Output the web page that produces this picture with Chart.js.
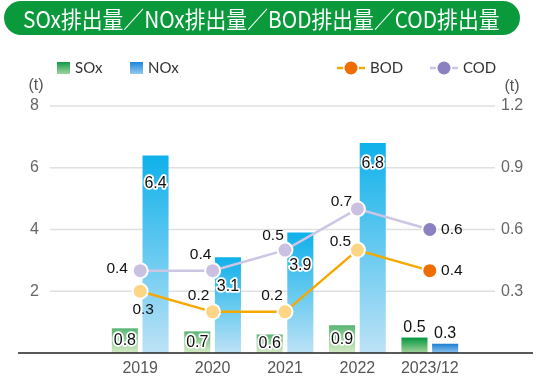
<!DOCTYPE html>
<html>
<head>
<meta charset="utf-8">
<script src="https://cdn.jsdelivr.net/npm/chart.js@4.4.1/dist/chart.umd.min.js"></script>
<style>
  html, body { margin: 0; padding: 0; background: #fff; }
  #wrap { position: relative; width: 558px; height: 387px; overflow: hidden; }
  #chart { position: absolute; left: 0; top: 0; }
  #title {
    position: absolute; left: 4px; top: 1px; width: 516px; height: 34px;
    border-radius: 17px; background: #0a9a3c; color: #fff;
    font: 400 23px "Noto Sans CJK JP", sans-serif; line-height: 34px;
    white-space: nowrap; z-index: 2;
  }
  #title span { position: absolute; left: 19px; top: 0; display: inline-block; transform-origin: left center; }
</style>
</head>
<body>
<div id="wrap">
  <div id="title"><span id="titleText">SOx排出量／NOx排出量／BOD排出量／COD排出量</span></div>
  <canvas id="chart" width="558" height="387"></canvas>
</div>
<script>
const categories = ['2019', '2020', '2021', '2022', '2023/12'];
const soxValues = [0.8, 0.7, 0.6, 0.9, 0.5];
const noxValues = [6.4, 3.1, 3.9, 6.8, 0.3];
const bodValues = [0.3, 0.2, 0.2, 0.5, 0.4];
const codValues = [0.4, 0.4, 0.5, 0.7, 0.6];
const leftTicks = [0, 2, 4, 6, 8];
const rightTicks = [0, 0.3, 0.6, 0.9, 1.2];

// squeeze the title to its condensed width
const titleSpan = document.getElementById('titleText');
titleSpan.style.transform = 'scaleX(' + (477 / titleSpan.offsetWidth) + ')';

const FONT = '"Liberation Sans", Arial, sans-serif';
const last = categories.length - 1;

function barGradient(ctx, top, bottom) {
    const chart = ctx.chart;
    if (!chart.chartArea || ctx.type !== 'data') return top;
    const y = chart.scales.y;
    const g = chart.ctx.createLinearGradient(0, y.getPixelForValue(ctx.raw), 0, y.getPixelForValue(0));
    g.addColorStop(0, top);
    g.addColorStop(1, bottom);
    return g;
}

function pointColors(past, now) {
    return categories.map((c, i) => i === last ? now : past);
}

function outlined(c, text, x, y) {
    c.lineWidth = 3.5;
    c.lineJoin = 'round';
    c.strokeStyle = '#fff';
    c.strokeText(text, x, y);
    c.fillStyle = '#111';
    c.fillText(text, x, y);
}

const decorPlugin = {
    id: 'decor',
    beforeDatasetsDraw(chart) {
        const c = chart.ctx;
        const y = chart.scales.y;
        const y1 = chart.scales.y1;
        const x = chart.scales.x;
        c.save();
        c.strokeStyle = '#e0e0e0';
        c.lineWidth = 1.5;
        leftTicks.filter(v => v > 0).forEach(v => {
            const py = y.getPixelForValue(v);
            c.beginPath();
            c.moveTo(50, py);
            c.lineTo(495, py);
            c.stroke();
        });

        // axis tick labels
        c.font = '16px ' + FONT;
        c.fillStyle = '#666';
        c.textBaseline = 'middle';
        c.textAlign = 'right';
        leftTicks.filter(v => v > 0).forEach(v => c.fillText(String(v), 39, y.getPixelForValue(v)));
        c.textAlign = 'left';
        rightTicks.filter(v => v > 0).forEach(v => c.fillText(v.toFixed(1), 501, y1.getPixelForValue(v)));
        c.textAlign = 'center';
        c.fillStyle = '#555';
        categories.forEach((cat, i) => c.fillText(cat, x.getPixelForValue(i), 369));

        // unit labels
        c.fillText('(t)', 36, 86);
        c.fillText('(t)', 512, 87);
        c.restore();
    },
    afterDatasetsDraw(chart) {
        const c = chart.ctx;
        const y = chart.scales.y;
        c.save();

        // baseline
        c.strokeStyle = '#222';
        c.lineWidth = 1.5;
        c.beginPath();
        c.moveTo(18, y.getPixelForValue(0));
        c.lineTo(533, y.getPixelForValue(0));
        c.stroke();

        c.textAlign = 'center';
        c.textBaseline = 'middle';
        c.font = '16px ' + FONT;

        // bar labels
        const sox = chart.getDatasetMeta(0).data;
        const nox = chart.getDatasetMeta(1).data;
        const noxDrop = [28, 29, 33, 21];
        sox.forEach((bar, i) => {
            if (i === last) {
                c.fillStyle = '#111';
                c.fillText(soxValues[i].toFixed(1), bar.x, bar.y - 10);
            } else {
                outlined(c, soxValues[i].toFixed(1), bar.x, (bar.y + bar.base) / 2);
            }
        });
        nox.forEach((bar, i) => {
            if (i === last) {
                c.fillStyle = '#111';
                c.fillText(noxValues[i].toFixed(1), bar.x, bar.y - 10);
            } else {
                outlined(c, noxValues[i].toFixed(1), bar.x, bar.y + noxDrop[i]);
            }
        });

        // line labels
        c.font = '15.5px ' + FONT;
        c.fillStyle = '#111';
        const bodShift = [[3, 18], [-14, -16], [-13, -16], [-17, -8], [22, 0]];
        const codShift = [[-23, -2], [-12, -16], [-12, -14], [-16, -7], [22, 0]];
        chart.getDatasetMeta(2).data.forEach((p, i) => {
            c.fillText(bodValues[i].toFixed(1), p.x + bodShift[i][0], p.y + bodShift[i][1]);
        });
        chart.getDatasetMeta(3).data.forEach((p, i) => {
            c.fillText(codValues[i].toFixed(1), p.x + codShift[i][0], p.y + codShift[i][1]);
        });

        // legend
        const ly = 68;
        c.font = '15px Lato, sans-serif';
        c.textAlign = 'left';
        const sq = (x, top, bottom, label) => {
            const g = c.createLinearGradient(0, ly - 6, 0, ly + 6);
            g.addColorStop(0, top);
            g.addColorStop(1, bottom);
            c.fillStyle = g;
            c.fillRect(x, ly - 6, 13, 12);
            c.fillStyle = '#333';
            c.fillText(label, x + 18, ly);
        };
        sq(57, '#0e9a48', '#a3d59d', 'SOx');
        sq(130, '#1c86d8', '#93c9f0', 'NOx');
        const mark = (x, lineCol, dotCol, label) => {
            c.strokeStyle = lineCol;
            c.lineWidth = 2.5;
            c.beginPath();
            c.moveTo(x, ly); c.lineTo(x + 6, ly);
            c.moveTo(x + 22, ly); c.lineTo(x + 28, ly);
            c.stroke();
            c.fillStyle = dotCol;
            c.beginPath();
            c.arc(x + 14, ly, 6.5, 0, Math.PI * 2);
            c.fill();
            c.fillStyle = '#333';
            c.fillText(label, x + 33, ly);
        };
        mark(337, '#f5a800', '#ef6c00', 'BOD');
        mark(430, '#cdc5e4', '#8b80c1', 'COD');

        c.restore();
    }
};

new Chart(document.getElementById('chart'), {
    data: {
        labels: categories,
        datasets: [
            {
                type: 'bar',
                label: 'SOx',
                data: soxValues,
                yAxisID: 'y',
                order: 2,
                backgroundColor: ctx => ctx.dataIndex === last
                    ? barGradient(ctx, '#00963f', '#a6d49a')
                    : barGradient(ctx, '#59b574', '#d7ecc6'),
                categoryPercentage: 0.847,
                barPercentage: 0.85
            },
            {
                type: 'bar',
                label: 'NOx',
                data: noxValues,
                yAxisID: 'y',
                order: 2,
                backgroundColor: ctx => ctx.dataIndex === last
                    ? barGradient(ctx, '#1b7dd0', '#8ec4ee')
                    : barGradient(ctx, '#0fb1ea', '#bde2f6'),
                categoryPercentage: 0.847,
                barPercentage: 0.85
            },
            {
                type: 'line',
                label: 'BOD',
                data: bodValues,
                yAxisID: 'y1',
                order: 1,
                borderColor: '#f5a800',
                borderWidth: 2.5,
                tension: 0,
                pointRadius: 7.5,
                pointBorderColor: '#fff',
                pointBorderWidth: 2,
                pointBackgroundColor: pointColors('#fdd584', '#ef6c00')
            },
            {
                type: 'line',
                label: 'COD',
                data: codValues,
                yAxisID: 'y1',
                order: 1,
                borderColor: '#cdc5e4',
                borderWidth: 2.5,
                tension: 0,
                pointRadius: 7.5,
                pointBorderColor: '#fff',
                pointBorderWidth: 2,
                pointBackgroundColor: pointColors('#c9c0e2', '#8b80c1')
            }
        ]
    },
    options: {
        responsive: false,
        animation: false,
        layout: { padding: { top: 106, left: 104, right: 92, bottom: 34 } },
        plugins: {
            legend: { display: false },
            tooltip: { enabled: false }
        },
        scales: {
            x: { display: false },
            y: {
                display: false,
                position: 'left',
                min: leftTicks[0],
                max: leftTicks[leftTicks.length - 1]
            },
            y1: {
                display: false,
                position: 'right',
                min: rightTicks[0],
                max: rightTicks[rightTicks.length - 1]
            }
        }
    },
    plugins: [decorPlugin]
});
</script>
</body>
</html>
